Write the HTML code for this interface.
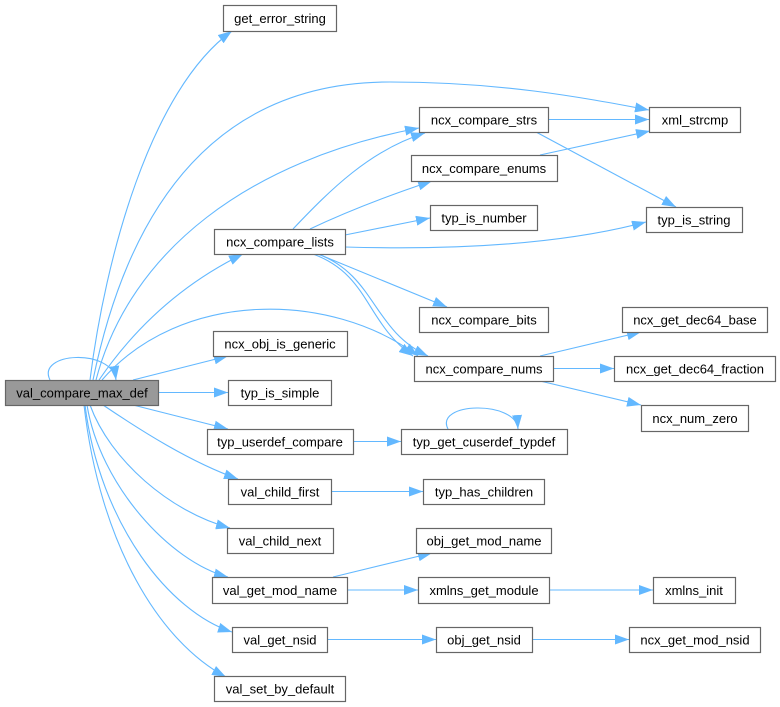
<!DOCTYPE html>
<html><head><meta charset="utf-8"><style>
html,body{margin:0;padding:0;background:#fff;}
svg{display:block;}
text{font-family:"Liberation Sans",Arial,sans-serif;font-size:13px;fill:#000;text-anchor:middle;}
.e{fill:none;stroke:#63b8ff;stroke-width:1.1;}
.n{fill:#fff;stroke:#666;stroke-width:1.2;}
</style></head><body>
<svg width="780" height="707" viewBox="0 0 780 707" xmlns="http://www.w3.org/2000/svg">
<defs>
<marker id="a" markerUnits="userSpaceOnUse" markerWidth="14" markerHeight="10" refX="14" refY="5" orient="auto">
<path d="M0,0 L14,5 L0,10 z" fill="#63b8ff"/>
</marker>
</defs>
<g marker-end="url(#a)">
<!-- from val_compare_max_def -->
<path class="e" d="M50,380 C36,352 112,348 116,380"/>
<path class="e" d="M90,380 C105,260 150,90 232,31"/>
<path class="e" d="M93,380 C130,200 220,82 390,82 C500,82 580,97 649,110"/>
<path class="e" d="M96,380 C130,250 250,160 419,128"/>
<path class="e" d="M99,380 C140,320 190,280 243,254"/>
<path class="e" d="M102,380 C180,290 330,290 418,356"/>
<path class="e" d="M133,380 L228,356"/>
<path class="e" d="M158,392.5 L228,392.5"/>
<path class="e" d="M133,405 L228,429"/>
<path class="e" d="M103,405 C140,430 190,462 238,479"/>
<path class="e" d="M90,405 C110,460 170,512 230,528"/>
<path class="e" d="M87,405 C100,485 170,562 228,577"/>
<path class="e" d="M85,405 C100,525 170,612 232,632"/>
<path class="e" d="M84,405 C100,545 160,642 226,677"/>
<!-- from ncx_compare_lists -->
<path class="e" d="M293,229 C330,190 370,150 425,133"/>
<path class="e" d="M310,229 C350,210 390,195 432,181"/>
<path class="e" d="M345,235 L430,218"/>
<path class="e" d="M345,247 C450,250 560,245 646,222"/>
<path class="e" d="M318,254 L447,307"/>
<path class="e" d="M313,254 C370,275 365,322 413,356"/>
<path class="e" d="M318,254 C376,276 372,330 428,356"/>
<!-- others -->
<path class="e" d="M548,119.5 L649,119.5"/>
<path class="e" d="M536,132 L676,207"/>
<path class="e" d="M540,155 L650,131"/>
<path class="e" d="M540,356 L641,332"/>
<path class="e" d="M553,368.5 L614,368.5"/>
<path class="e" d="M540,381 L641,405"/>
<path class="e" d="M353,441.5 L401,441.5"/>
<path class="e" d="M448,429 C434,402 516,400 518,429"/>
<path class="e" d="M331,491.5 L423,491.5"/>
<path class="e" d="M333,577 L432,553"/>
<path class="e" d="M347,590 L418,590"/>
<path class="e" d="M549,590 L653,590"/>
<path class="e" d="M327,639.5 L436,639.5"/>
<path class="e" d="M532,639.5 L629,639.5"/>
</g>
<!-- nodes -->
<rect class="n" x="223.5" y="5.5" width="113" height="26"/><text x="280" y="23">get_error_string</text>
<rect class="n" x="214.5" y="229.5" width="131" height="25"/><text x="280" y="246.5">ncx_compare_lists</text>
<rect class="n" x="419.5" y="107.5" width="129" height="25"/><text x="484" y="124.5">ncx_compare_strs</text>
<rect class="n" x="649.5" y="107.5" width="91" height="25"/><text x="695" y="124.5">xml_strcmp</text>
<rect class="n" x="411.5" y="155.5" width="146" height="26"/><text x="484" y="173">ncx_compare_enums</text>
<rect class="n" x="430.5" y="205.5" width="107" height="25"/><text x="484" y="222.5">typ_is_number</text>
<rect class="n" x="646.5" y="207.5" width="96" height="25"/><text x="694" y="224.5">typ_is_string</text>
<rect x="5.5" y="380.5" width="153" height="25" fill="#999" stroke="#666" stroke-width="1.2"/><text x="82" y="397.5">val_compare_max_def</text>
<rect class="n" x="213.5" y="331.5" width="134" height="25"/><text x="280" y="348.5">ncx_obj_is_generic</text>
<rect class="n" x="228.5" y="380.5" width="103" height="25"/><text x="280" y="397.5">typ_is_simple</text>
<rect class="n" x="207.5" y="429.5" width="146" height="25"/><text x="280" y="446.5">typ_userdef_compare</text>
<rect class="n" x="419.5" y="307.5" width="129" height="25"/><text x="484" y="324.5">ncx_compare_bits</text>
<rect class="n" x="622.5" y="307.5" width="145" height="25"/><text x="695" y="324.5">ncx_get_dec64_base</text>
<rect class="n" x="414.5" y="356.5" width="139" height="25"/><text x="484" y="373.5">ncx_compare_nums</text>
<rect class="n" x="614.5" y="356.5" width="161" height="25"/><text x="695" y="373.5">ncx_get_dec64_fraction</text>
<rect class="n" x="641.5" y="405.5" width="107" height="26"/><text x="695" y="423">ncx_num_zero</text>
<rect class="n" x="401.5" y="429.5" width="166" height="25"/><text x="484" y="446.5">typ_get_cuserdef_typdef</text>
<rect class="n" x="228.5" y="479.5" width="103" height="25"/><text x="280" y="496.5">val_child_first</text>
<rect class="n" x="227.5" y="528.5" width="106" height="25"/><text x="280" y="545.5">val_child_next</text>
<rect class="n" x="212.5" y="577.5" width="135" height="26"/><text x="280" y="595">val_get_mod_name</text>
<rect class="n" x="232.5" y="627.5" width="95" height="25"/><text x="280" y="644.5">val_get_nsid</text>
<rect class="n" x="214.5" y="676.5" width="131" height="25"/><text x="280" y="693.5">val_set_by_default</text>
<rect class="n" x="423.5" y="479.5" width="121" height="25"/><text x="484" y="496.5">typ_has_children</text>
<rect class="n" x="416.5" y="528.5" width="135" height="25"/><text x="484" y="545.5">obj_get_mod_name</text>
<rect class="n" x="418.5" y="577.5" width="131" height="26"/><text x="484" y="595">xmlns_get_module</text>
<rect class="n" x="653.5" y="577.5" width="82" height="26"/><text x="694" y="595">xmlns_init</text>
<rect class="n" x="436.5" y="627.5" width="96" height="25"/><text x="484" y="644.5">obj_get_nsid</text>
<rect class="n" x="629.5" y="627.5" width="131" height="25"/><text x="695" y="644.5">ncx_get_mod_nsid</text>
</svg>
</body></html>
